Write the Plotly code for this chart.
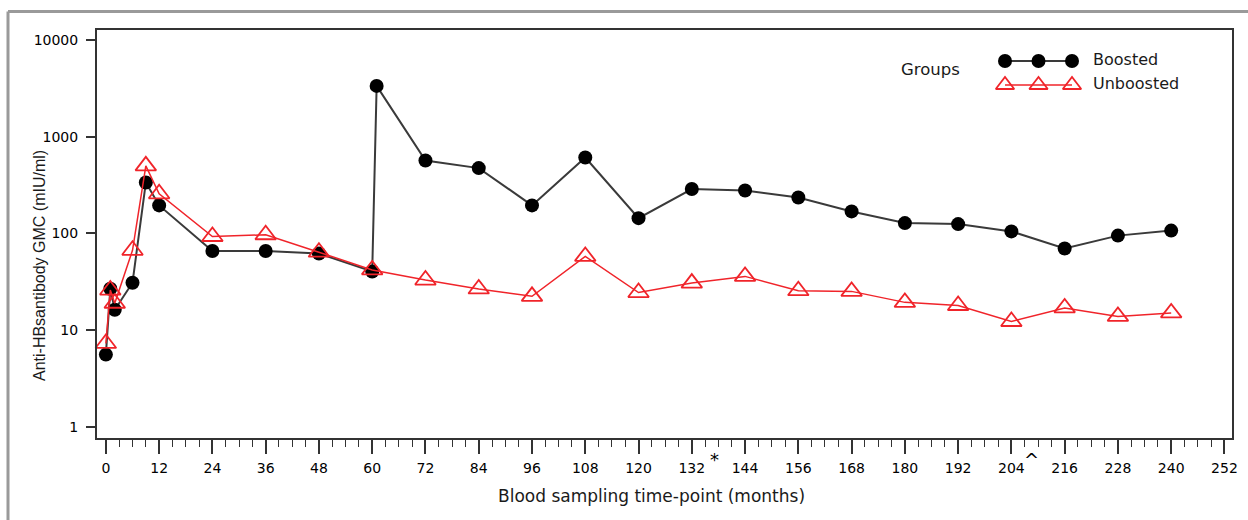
import plotly.graph_objects as go

# ---------------- data ----------------
months_boosted = [0, 1, 2, 6, 9, 12, 24, 36, 48, 60, 61, 72, 84, 96, 108, 120,
                  132, 144, 156, 168, 180, 192, 204, 216, 228, 240]
gmc_boosted = [5.6, 26.8, 16.3, 31, 336, 195, 66, 66, 62, 40.5, 3350, 568, 474, 195, 610, 144,
               288, 278, 235, 169, 128, 125, 105, 70, 95, 107]

months_unboosted = [0, 1, 2, 6, 9, 12, 24, 36, 48, 60, 72, 84, 96, 108, 120,
                    132, 144, 156, 168, 180, 192, 204, 216, 228, 240]
gmc_unboosted = [7.3, 26, 19, 67, 500, 257, 93, 97, 64, 42, 33, 26.7, 22.4, 58, 24.5,
                 30.7, 36, 25.6, 25.2, 19.4, 18, 12.3, 17, 13.9, 15.1]

x_tick_vals = [0, 12, 24, 36, 48, 60, 72, 84, 96, 108, 120, 132, 144, 156, 168, 180,
               192, 204, 216, 228, 240, 252]
x_tick_text = [str(v) for v in x_tick_vals]
x_tick_notes = {132: "*", 204: "^"}
y_tick_vals = [1, 10, 100, 1000, 10000]
y_tick_text = ["1", "10", "100", "1000", "10000"]

group_names = ["Boosted", "Unboosted"]
legend_title = "Groups"
x_title = "Blood sampling time-point (months)"
y_title = "Anti-HBsantibody GMC (mIU/ml)"

# ---------------- layout constants ----------------
W, H = 1248, 520
L, R, T, B = 97, 16, 30, 82
PW, PH = W - L - R, H - T - B

def px_x(p):
    return (p - L) / PW

def px_y(p):
    return (H - B - p) / PH

BLACK_LINE = "#3a3a3a"
RED = "#f0242a"
TXT = "#1a1a1a"

fig = go.Figure()

fig.add_trace(go.Scatter(
    x=months_boosted, y=gmc_boosted, mode="lines+markers", name=group_names[0],
    line=dict(color=BLACK_LINE, width=2),
    marker=dict(symbol="circle", size=14, color="black"),
    cliponaxis=False, showlegend=False))

fig.add_trace(go.Scatter(
    x=months_unboosted, y=gmc_unboosted, mode="lines+markers", name=group_names[1],
    line=dict(color=RED, width=1.5),
    marker=dict(symbol="triangle-up-open", size=18, color=RED, line=dict(width=1.8, color=RED)),
    cliponaxis=False, showlegend=False))

# ---------------- custom legend (three markers per sample) ----------------
leg_marker_px = [1005, 1038.5, 1072]
leg_rows_px = [61, 85]
leg_styles = [
    dict(line=dict(color=BLACK_LINE, width=2), marker=dict(symbol="circle", size=14, color="black")),
    dict(line=dict(color=RED, width=1.5),
         marker=dict(symbol="triangle-up-open", size=16, color=RED, line=dict(width=1.8, color=RED))),
]
for name, ypx, st in zip(group_names, leg_rows_px, leg_styles):
    fig.add_trace(go.Scatter(
        x=[px_x(p) for p in leg_marker_px], y=[px_y(ypx)] * len(leg_marker_px),
        xaxis="x2", yaxis="y2", mode="lines+markers", showlegend=False,
        hoverinfo="skip", cliponaxis=False, **st))

annotations = []
for name, ypx in zip(group_names, leg_rows_px):
    annotations.append(dict(
        text=name, x=px_x(1091), y=px_y(ypx - 1), xref="paper", yref="paper",
        xanchor="left", yanchor="middle", showarrow=False,
        font=dict(family="DejaVu Sans", size=16, color=TXT)))
annotations.append(dict(
    text=legend_title, x=px_x(930.5), y=px_y(69), xref="paper", yref="paper",
    xanchor="center", yanchor="middle", showarrow=False,
    font=dict(family="DejaVu Sans", size=16.5, color=TXT)))

# axis titles
annotations.append(dict(
    text=x_title, x=px_x(651), y=px_y(496), xref="paper", yref="paper",
    xanchor="center", yanchor="middle", showarrow=False,
    font=dict(family="DejaVu Sans", size=17, color=TXT)))
annotations.append(dict(
    text=y_title, x=px_x(39), y=px_y(266), xref="paper", yref="paper",
    xanchor="center", yanchor="middle", showarrow=False, textangle=-90,
    font=dict(family="Liberation Sans", size=16, color=TXT)))

# tick notes (* and ^)
for v, note, shift in zip(x_tick_notes.keys(), x_tick_notes.values(), [23, 20]):
    annotations.append(dict(
        text=note, x=v, xref="x", y=px_y(459), yref="paper", xshift=shift,
        xanchor="center", yanchor="middle", showarrow=False,
        font=dict(family="DejaVu Sans", size=18, color="black")))

# outer grey frame (top and left)
shapes = [
    dict(type="line", xref="paper", yref="paper", x0=px_x(8), x1=px_x(W + 2),
         y0=px_y(11.5), y1=px_y(11.5), line=dict(color="#9a9a9a", width=3)),
    dict(type="line", xref="paper", yref="paper", x0=px_x(8), x1=px_x(8),
         y0=px_y(11.5), y1=px_y(H + 2), line=dict(color="#9a9a9a", width=3)),
]

fig.update_layout(
    width=W, height=H,
    margin=dict(l=L, r=R, t=T, b=B, autoexpand=False),
    paper_bgcolor="white", plot_bgcolor="white",
    showlegend=False,
    annotations=annotations, shapes=shapes,
    xaxis=dict(
        range=[-2, 253.7], tickmode="array", tickvals=x_tick_vals, ticktext=x_tick_text,
        ticks="outside", ticklen=14, tickwidth=1.5, tickcolor="#333",
        minor=dict(dtick=3, ticks="outside", ticklen=7, tickwidth=1.2, tickcolor="#333"),
        showline=True, linecolor="#333", linewidth=2, mirror=True,
        showgrid=False, zeroline=False,
        tickfont=dict(family="DejaVu Sans", size=14, color="black"),
        ticklabelstandoff=2,
    ),
    yaxis=dict(
        type="log", range=[-0.114, 4.103], tickmode="array",
        tickvals=y_tick_vals, ticktext=y_tick_text,
        ticks="outside", ticklen=9, tickwidth=1.5, tickcolor="#333",
        showline=True, linecolor="#333", linewidth=2, mirror=True,
        showgrid=False, zeroline=False,
        tickfont=dict(family="DejaVu Sans", size=14, color="black"),
        ticklabelstandoff=5,
    ),
    xaxis2=dict(domain=[0, 1], range=[0, 1], overlaying="x", visible=False, fixedrange=True),
    yaxis2=dict(domain=[0, 1], range=[0, 1], overlaying="y", visible=False, fixedrange=True),
)

fig.write_html("out.html", config={"displayModeBar": False},
               post_script="document.body.style.margin='0';document.body.style.overflow='hidden';")
